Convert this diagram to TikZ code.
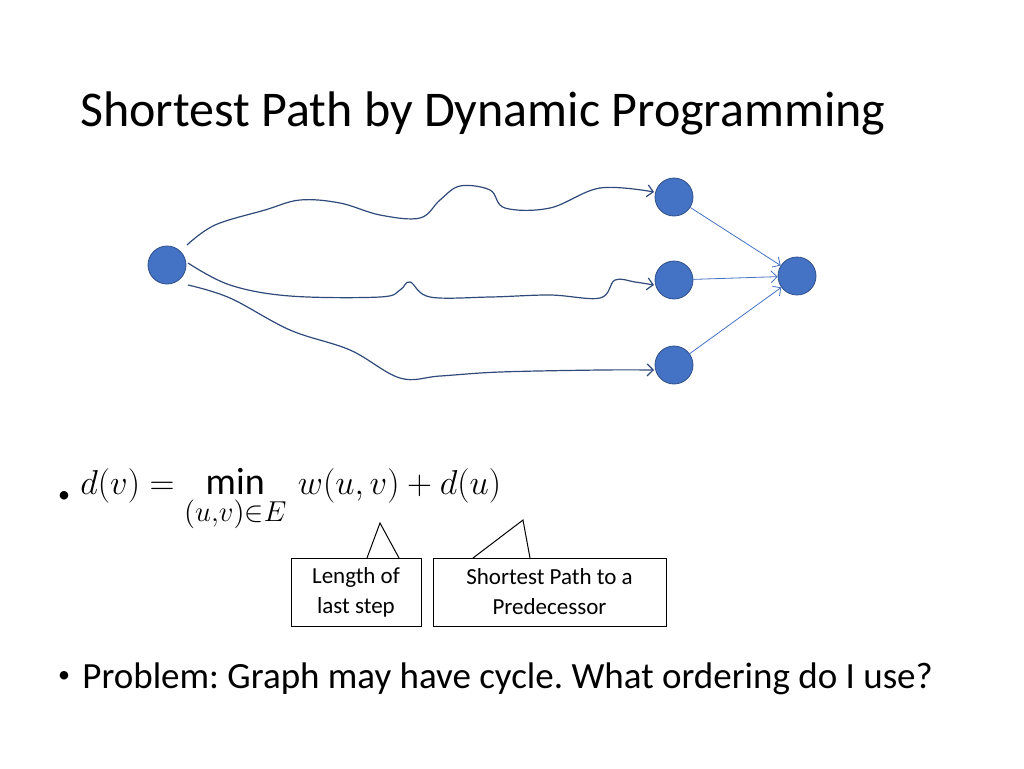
\documentclass[tikz,border=0pt]{standalone}
\usepackage{amsmath}
\usepackage{fontspec}
\setmainfont{Carlito}
\usetikzlibrary{arrows.meta}
\definecolor{nodeblue}{HTML}{4472C4}
\definecolor{pathblue}{HTML}{2F4A7A}
\tikzset{
  vert/.style={circle, draw=nodeblue!70!black, fill=nodeblue, minimum size=19pt, inner sep=0pt},
  wavy/.style={draw=pathblue, line width=0.6pt, -{Straight Barb[length=3pt]}},
  hop/.style={draw=nodeblue, line width=0.4pt, -{Straight Barb[length=3pt]}},
  callout/.style={draw, line width=0.5pt, align=center, font=\fontsize{11.5}{15}\selectfont},
  dot/.style={inner sep=0pt, font=\fontsize{12}{14}\selectfont}
}
\frenchspacing
\begin{document}
\begin{tikzpicture}[x=0.5pt, y=-0.5pt]
  \useasboundingbox (0,0) rectangle (1024,768);
  % title
  \node[anchor=west, inner sep=0pt, font=\fontsize{25}{30}\selectfont] (title) at (80,113) {Shortest Path by Dynamic Programming};

  % graph
  \node[vert] (s) at (167,265) {};
  \node[vert] (a) at (674,197) {};
  \node[vert] (b) at (674,280) {};
  \node[vert] (c) at (674,365) {};
  \node[vert] (t) at (797,276) {};

  \draw[wavy] plot[smooth, tension=0.6] coordinates {(187,245) (215,225) (265,210) (300,200) (340,203) (380,215) (420,218) (440,200) (460,186) (490,190) (505,208) (550,208) (600,188) (654,192)};
  \draw[wavy] plot[smooth, tension=0.6] coordinates {(188,263) (230,285) (290,296) (380,297) (400,290) (410,282) (430,297) (490,297) (550,295) (600,298) (615,280) (635,282) (654,285)};
  \draw[wavy] plot[smooth, tension=0.6] coordinates {(188,285) (230,298) (290,330) (350,350) (400,378) (440,376) (500,372) (600,370) (654,370)};

  \draw[hop] (a) -- (t);
  \draw[hop] (b) -- (t);
  \draw[hop] (c) -- (t);

  % formula
  \node[dot] (b1) at (64,497) {\textbullet};
  \node[anchor=west, inner sep=0pt, font=\fontsize{19}{23}\selectfont] (eq) at (80,500)
    {$d(v) = \min\limits_{(u,v)\in E}\, w(u,v) + d(u)$};

  % callouts
  \node[callout, minimum width=65pt, minimum height=34pt] (len) at (356,592) {Length of\\last step};
  \node[callout, minimum width=116.5pt, minimum height=34pt] (pred) at (549.5,592) {Shortest Path to a\\Predecessor};
  \coordinate (lentip) at (380,523);
  \coordinate (predtip) at (523,520);
  \draw[line width=0.5pt] (367,558) -- (lentip) -- (399,558);
  \draw[line width=0.5pt] (473,558) -- (predtip) -- (530,558);

  \node[dot] (b2) at (64,677) {\textbullet};
  \node[anchor=west, inner sep=0pt, font=\fontsize{18.5}{23}\selectfont] (prob) at (82,679)
    {Problem: Graph may have cycle. What ordering do I use?};
\end{tikzpicture}
\end{document}
